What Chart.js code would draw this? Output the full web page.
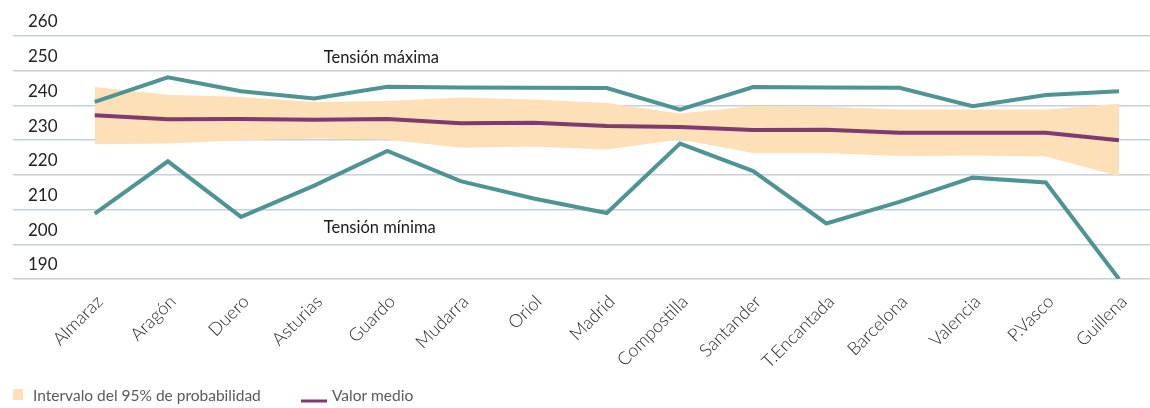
<!DOCTYPE html>
<html>
<head>
<meta charset="utf-8">
<script src="https://cdn.jsdelivr.net/npm/chart.js@4/dist/chart.umd.min.js"></script>
<style>
  html, body { margin: 0; padding: 0; background: #ffffff; }
  #wrap { width: 1150px; height: 408px; position: relative; }
</style>
</head>
<body>
<div id="wrap"><canvas id="c"></canvas></div>
<script>
// ---- data ----
const categories = ["Almaraz", "Aragón", "Duero", "Asturias", "Guardo", "Mudarra", "Oriol", "Madrid",
  "Compostilla", "Santander", "T.Encantada", "Barcelona", "Valencia", "P.Vasco", "Guillena"];
const maxValues   = [241.0, 248.1, 244.1, 242.0, 245.4, 245.2, 245.1, 245.0, 238.8, 245.3, 245.2, 245.1, 239.8, 243.0, 244.1];
const meanValues  = [237.2, 236.0, 236.1, 235.9, 236.1, 234.9, 235.0, 234.1, 233.8, 232.9, 233.0, 232.1, 232.1, 232.1, 230.0];
const bandUpper   = [245.3, 243.1, 242.4, 241.0, 241.3, 242.3, 241.7, 240.7, 237.7, 239.8, 239.6, 238.8, 238.8, 238.8, 240.5];
const bandLower   = [228.8, 229.0, 230.0, 230.5, 230.2, 227.8, 228.2, 227.3, 230.2, 226.3, 226.3, 225.4, 225.6, 225.3, 219.6];
const minValues   = [208.8, 223.9, 207.9, 216.9, 226.9, 218.2, 213.2, 209.0, 229.0, 221.1, 206.0, 212.2, 219.2, 217.8, 190.0];
const yTickValues = [190, 200, 210, 220, 230, 240, 250, 260];
const seriesNames = { band: "Intervalo del 95% de probabilidad", mean: "Valor medio", max: "Tensión máxima", min: "Tensión mínima" };

// ---- styles ----
const TEAL = "#4f9494";
const PURPLE = "#7e3b72";
const PEACH = "#fde0b7";
const GRID = "#c4cfdb";
const FONT = "Lato, 'Open Sans', sans-serif";

const toXY = arr => arr.map((v, i) => ({ x: i, y: v }));

// text labels next to the max / min lines, anchored in data coordinates
const seriesTags = [
  { text: seriesNames.max, x: 3.13, y: 253.9 },
  { text: seriesNames.min, x: 3.13, y: 204.9 }
];
const seriesTagPlugin = {
  id: "seriesTags",
  afterDatasetsDraw(chart) {
    const { ctx, scales: { x, y } } = chart;
    ctx.save();
    ctx.font = "16.5px " + FONT;
    ctx.fillStyle = "#1a1a1a";
    ctx.textAlign = "left";
    ctx.textBaseline = "middle";
    seriesTags.forEach(t => ctx.fillText(t.text, x.getPixelForValue(t.x), y.getPixelForValue(t.y)));
    ctx.restore();
  }
};

// bottom legend
const legendPlugin = {
  id: "bottomLegend",
  afterDraw(chart) {
    const { ctx } = chart;
    const cy = 396;
    ctx.save();
    ctx.font = "15.5px " + FONT;
    ctx.textBaseline = "middle";
    ctx.textAlign = "left";
    // band item
    ctx.fillStyle = PEACH;
    ctx.fillRect(13, cy - 7, 10, 11);
    ctx.fillStyle = "#5a5a5a";
    ctx.fillText(seriesNames.band, 33, cy);
    // mean item
    ctx.strokeStyle = PURPLE;
    ctx.lineWidth = 3;
    ctx.beginPath();
    ctx.moveTo(301, cy + 5);
    ctx.lineTo(327, cy + 5);
    ctx.stroke();
    ctx.fillText(seriesNames.mean, 332, cy);
    ctx.restore();
  }
};

new Chart(document.getElementById("c"), {
  type: "line",
  data: {
    datasets: [
      { label: seriesNames.mean, data: toXY(meanValues), borderColor: PURPLE, borderWidth: 4, pointRadius: 0, fill: false, tension: 0 },
      { label: seriesNames.max, data: toXY(maxValues), borderColor: TEAL, borderWidth: 4, pointRadius: 0, fill: false, tension: 0 },
      { label: seriesNames.min, data: toXY(minValues), borderColor: TEAL, borderWidth: 4, pointRadius: 0, fill: false, tension: 0 },
      { label: seriesNames.band, data: toXY(bandUpper), borderWidth: 0, borderColor: "rgba(0,0,0,0)", backgroundColor: PEACH, pointRadius: 0, fill: "+1", tension: 0 },
      { label: seriesNames.band + " (inf)", data: toXY(bandLower), borderWidth: 0, borderColor: "rgba(0,0,0,0)", pointRadius: 0, fill: false, tension: 0 }
    ]
  },
  options: {
    responsive: true,
    maintainAspectRatio: false,
    animation: false,
    layout: { padding: { left: 13, right: 0, top: 36, bottom: 31 } },
    plugins: {
      legend: { display: false },
      tooltip: { enabled: false },
      filler: { drawTime: "beforeDatasetsDraw" }
    },
    scales: {
      x: {
        type: "linear",
        min: -1.117,
        max: 14.424,
        afterBuildTicks: axis => { axis.ticks = categories.map((_, i) => ({ value: i })); },
        afterFit: axis => { axis.height = 98; axis.paddingLeft = 0; axis.paddingRight = 0; },
        grid: { display: false },
        border: { display: false },
        ticks: {
          autoSkip: false,
          minRotation: 45,
          maxRotation: 45,
          padding: 4,
          labelOffset: 5,
          color: "#2a2a2a",
          font: { family: FONT, size: 18, weight: "300" },
          callback: v => categories[v]
        }
      },
      y: {
        min: yTickValues[0],
        max: yTickValues[yTickValues.length - 1],
        afterBuildTicks: axis => { axis.ticks = yTickValues.map(v => ({ value: v })); },
        afterFit: axis => { axis.width = 0; axis.paddingTop = 0; axis.paddingBottom = 0; },
        grid: { color: GRID, lineWidth: 1.5, drawTicks: false },
        border: { display: false },
        ticks: {
          mirror: true,
          padding: 15,
          labelOffset: -14,
          color: "#222222",
          font: { family: FONT, size: 17 }
        }
      }
    }
  },
  plugins: [seriesTagPlugin, legendPlugin]
});
</script>
</body>
</html>
